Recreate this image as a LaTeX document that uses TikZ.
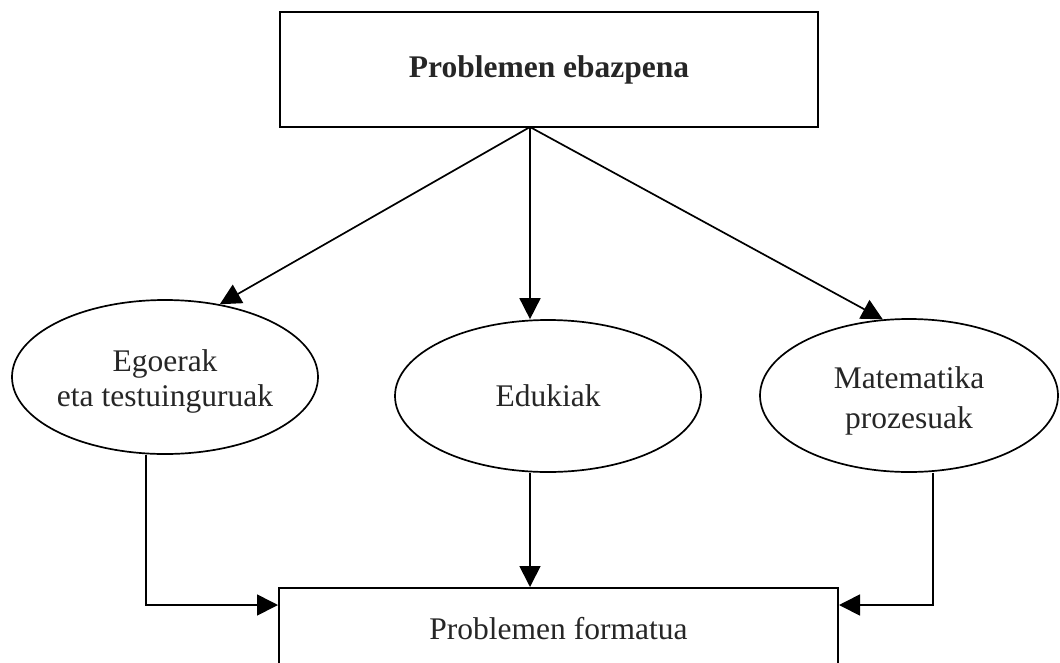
\documentclass[tikz,border=0pt]{standalone}
\usepackage{fontspec}
\setmainfont{Liberation Serif}
\usetikzlibrary{shapes.geometric,arrows.meta}
\newcommand{\lowerby}[2]{\raisebox{0pt}[\dimexpr\height+#1\relax][\depth]{#2}}
\begin{document}
\begin{tikzpicture}[x=1pt,y=-1pt,
  txt/.style={font=\fontsize{31.5}{37}\selectfont, align=center, text=black!85},
  boxnode/.style={draw, line width=2pt, inner sep=0pt, txt},
  ell/.style={draw, ellipse, line width=1.7pt, inner sep=0pt, txt},
  arr/.style={line width=1.7pt, -{Triangle[length=21pt,width=21pt]}}]
\useasboundingbox (0,0) rectangle (1060,662);
\begin{scope}
\clip (0,0) rectangle (1060,662);
\node[boxnode, minimum width=538pt, minimum height=115pt, font=\bfseries\fontsize{31.5}{37}\selectfont] (top) at (549,69.5) {Problemen ebazpena};
\node[ell, minimum width=306pt, minimum height=154pt] (left) at (165,377) {\lowerby{10pt}{\begin{tabular}{@{}c@{}}Egoerak\\[-2pt]eta testuinguruak\end{tabular}}};
\node[ell, minimum width=306pt, minimum height=152pt] (mid) at (548,396) {Edukiak};
\node[ell, minimum width=298pt, minimum height=153pt] (right) at (909,395.5) {\lowerby{12pt}{\begin{tabular}{@{}c@{}}Matematika\\[3pt]prozesuak\end{tabular}}};
\node[boxnode, minimum width=559pt, minimum height=82pt] (bot) at (558.5,629) {Problemen formatua};
\coordinate (hub) at (530,127);
\draw[arr] (hub) -- (left.53);
\draw[arr] (hub) -- (mid.north -| hub);
\draw[arr] (hub) -- (right.109);
\draw[arr] ([xshift=-19pt]left.south) |- ([yshift=-18pt]bot.north west);
\draw[arr] (mid.south -| hub) -- (bot.north -| hub);
\draw[arr] ([xshift=24pt]right.south) |- ([yshift=-18pt]bot.north east);
\end{scope}
\end{tikzpicture}
\end{document}
